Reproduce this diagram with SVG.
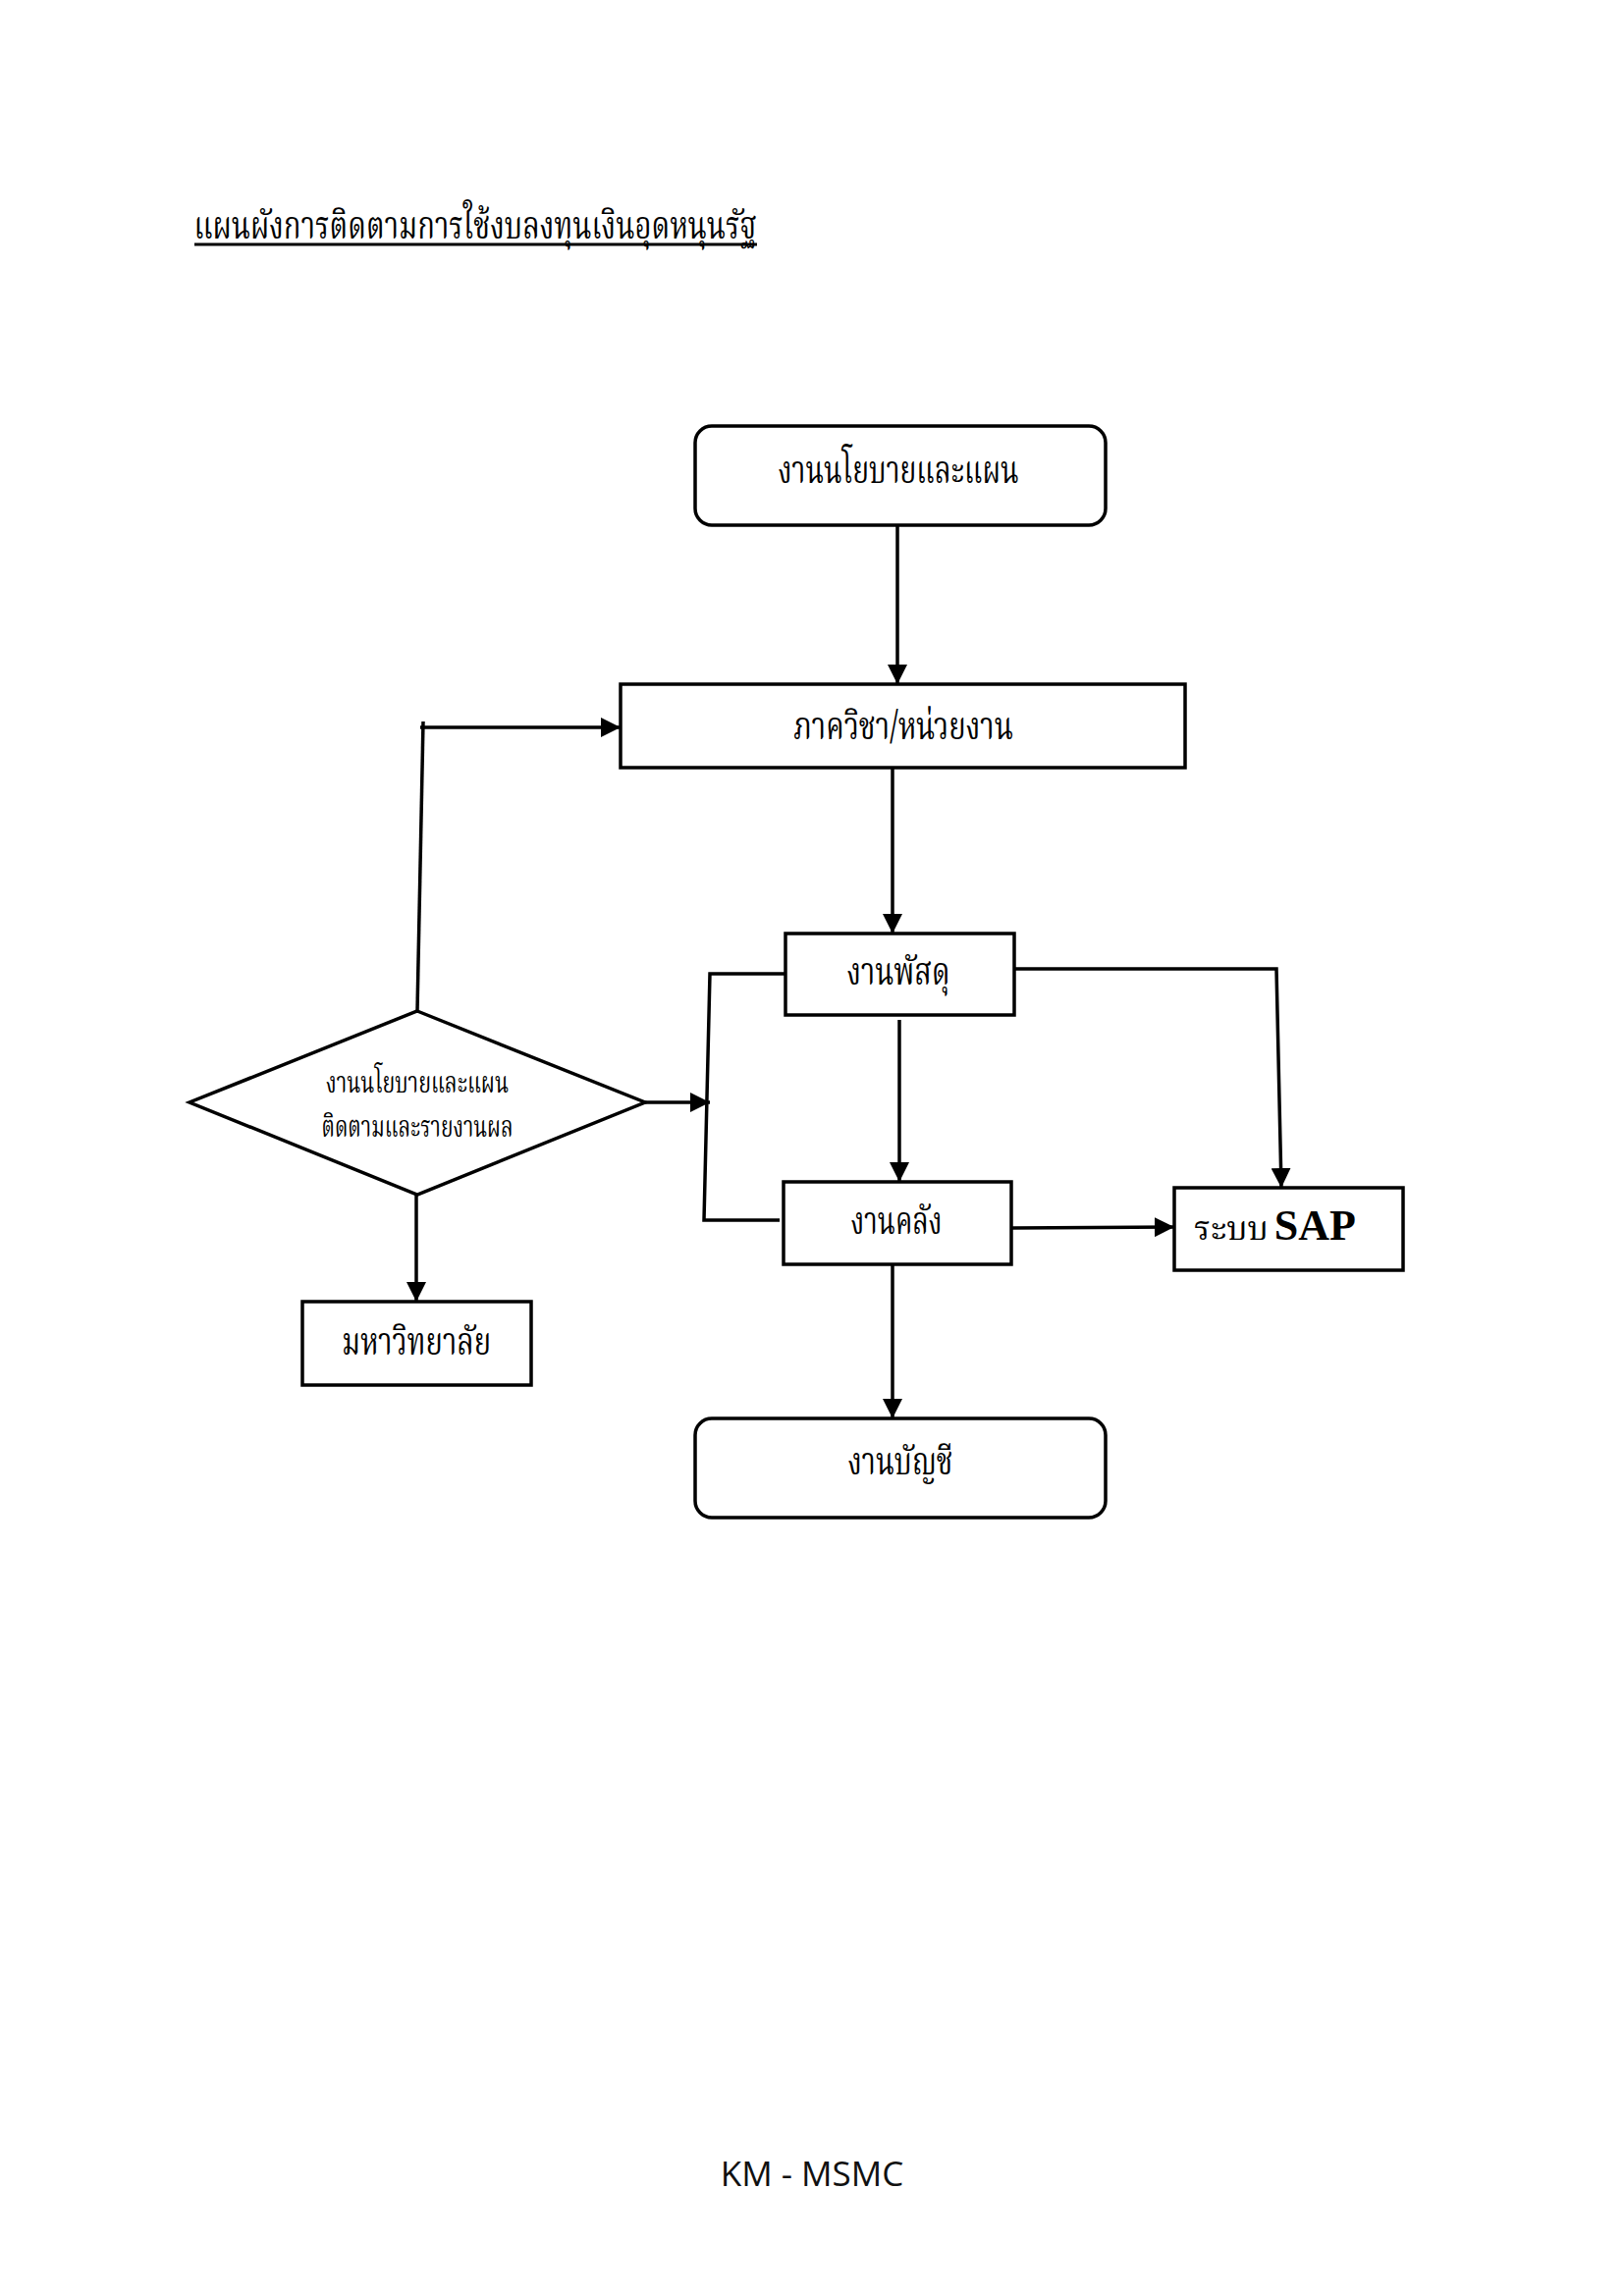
<svg xmlns="http://www.w3.org/2000/svg" width="1654" height="2339" viewBox="0 0 1654 2339">
<style>
.box{fill:#fff;stroke:#000;stroke-width:3.5}
.ln{fill:none;stroke:#000;stroke-width:3.5}
.th{font-family:"Noto Serif Thai","Noto Sans Thai","Liberation Serif","DejaVu Serif",serif;fill:#000;text-anchor:middle}
</style>
<defs>
<marker id="ah" markerUnits="userSpaceOnUse" markerWidth="20" markerHeight="20" refX="20" refY="10" orient="auto" viewBox="0 0 20 20">
<path d="M0,0 L20,10 L0,20 z" fill="#000"/>
</marker>
</defs>
<rect width="1654" height="2339" fill="#fff"/>
<g id="title">
<text class="th" x="484" y="243" font-size="40" textLength="573" lengthAdjust="spacingAndGlyphs">แผนผังการติดตามการใช้งบลงทุนเงินอุดหนุนรัฐ</text>
<line x1="198" y1="249" x2="771" y2="249" stroke="#000" stroke-width="3"/>
</g>
<g id="connectors">
<path class="ln" d="M914,535 L914,697" marker-end="url(#ah)"/>
<path class="ln" d="M909,782 L909,951" marker-end="url(#ah)"/>
<path class="ln" d="M916,1039 L916,1204" marker-end="url(#ah)"/>
<path class="ln" d="M909,1283 L909,1445" marker-end="url(#ah)"/>
<path class="ln" d="M1033,987 L1300,987 L1305,1210" marker-end="url(#ah)"/>
<path class="ln" d="M1030,1251 L1196,1250" marker-end="url(#ah)"/>
<path class="ln" d="M800,992 L723,992 L717,1243 L794,1243"/>
<path class="ln" d="M657,1123 L723,1123" marker-end="url(#ah)"/>
<path class="ln" d="M425,1030 L431,735"/>
<path class="ln" d="M428,741 L632,741" marker-end="url(#ah)"/>
<path class="ln" d="M424,1216 L424,1326" marker-end="url(#ah)"/>
</g>
<g id="policy">
<rect class="box" x="708" y="434" width="418" height="101" rx="17"/>
<text class="th" x="915" y="492" font-size="40" textLength="245" lengthAdjust="spacingAndGlyphs">งานนโยบายและแผน</text>
</g>
<g id="dept">
<rect class="box" x="632" y="697" width="575" height="85"/>
<text class="th" x="920" y="753" font-size="40" textLength="224" lengthAdjust="spacingAndGlyphs">ภาควิชา/หน่วยงาน</text>
</g>
<g id="supply">
<rect class="box" x="800" y="951" width="233" height="83"/>
<text class="th" x="915" y="1003" font-size="40" textLength="105" lengthAdjust="spacingAndGlyphs">งานพัสดุ</text>
</g>
<g id="treasury">
<rect class="box" x="798" y="1204" width="232" height="84"/>
<text class="th" x="913" y="1257" font-size="40" textLength="93" lengthAdjust="spacingAndGlyphs">งานคลัง</text>
</g>
<g id="sap">
<rect class="box" x="1196" y="1210" width="233" height="84"/>
<text x="1216" y="1263" font-family="Noto Serif Thai,Noto Sans Thai,Liberation Serif,serif" font-size="34">ระบบ<tspan dx="6" font-family="Liberation Serif,serif" font-weight="bold" font-size="44">SAP</tspan></text>
</g>
<g id="decision">
<polygon class="box" points="425,1030 657,1123 425,1217 193,1123"/>
<text class="th" x="425" y="1113" font-size="30" textLength="186" lengthAdjust="spacingAndGlyphs">งานนโยบายและแผน</text>
<text class="th" x="425" y="1158" font-size="30" textLength="195" lengthAdjust="spacingAndGlyphs">ติดตามและรายงานผล</text>
</g>
<g id="university">
<rect class="box" x="308" y="1326" width="233" height="85"/>
<text class="th" x="424" y="1380" font-size="40" textLength="152" lengthAdjust="spacingAndGlyphs">มหาวิทยาลัย</text>
</g>
<g id="accounting">
<rect class="box" x="708" y="1445" width="418" height="101" rx="17"/>
<text class="th" x="917" y="1502" font-size="40" textLength="107" lengthAdjust="spacingAndGlyphs">งานบัญชี</text>
</g>
<g id="footer">
<text x="827" y="2227" font-family="Open Sans,Liberation Sans,sans-serif" font-size="35" text-anchor="middle" fill="#111">KM - MSMC</text>
</g>
</svg>
